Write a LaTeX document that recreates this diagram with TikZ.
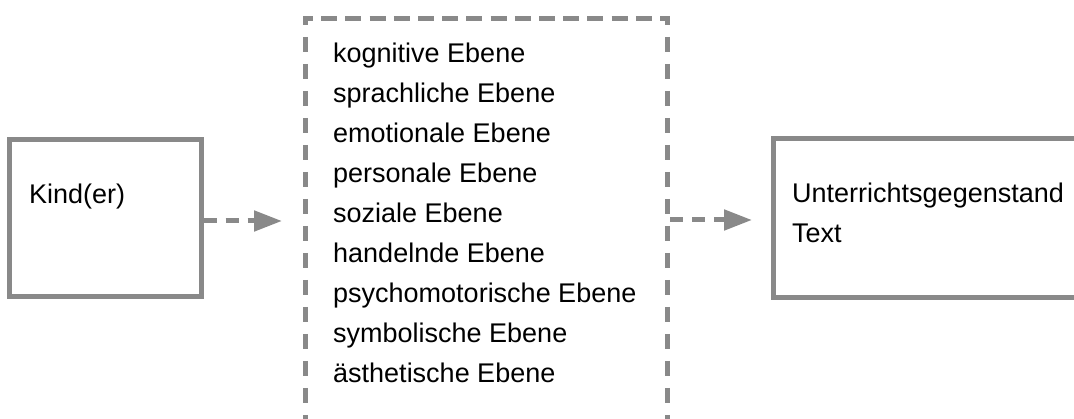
\documentclass[tikz,border=0pt]{standalone}
\usepackage{fontspec}
\setmainfont{Liberation Sans}
\usetikzlibrary{arrows.meta}
\definecolor{framegray}{HTML}{898989}
\begin{document}
\begin{tikzpicture}[x=1pt,y=-1pt,
  solidbox/.style={draw=framegray, line width=5pt, inner sep=0pt},
  openbox/.style={draw=none, inner sep=0pt, outer sep=0pt},
  toprule/.style={draw=framegray, line width=5pt, dash pattern=on 16pt off 8.2pt, dash phase=6pt},
  siderule/.style={draw=framegray, line width=5pt, dash pattern=on 15pt off 12pt, dash phase=6.5pt},
  txt/.style={anchor=base west, inner sep=0pt, font=\fontsize{27}{32}\selectfont, text=black},
  flow/.style={draw=framegray, line width=5pt, dash pattern=on 13pt off 9pt,
    -{Triangle[length=28pt,width=20pt,fill=framegray]}}]
\clip (0,0) rectangle (1074,419);
\fill[white] (0,0) rectangle (1074,419);
% boxes
\node[solidbox, minimum width=192pt, minimum height=157pt] (kind) at (105,218) {};
\node[openbox, minimum width=362pt, minimum height=421pt] (mid) at (486.5,229.5) {};
\node[solidbox, minimum width=330pt, minimum height=158.5pt] (ziel) at (938.5,218.25) {};
% dashed frame of the middle box
\draw[toprule] ([xshift=-2.5pt]mid.north west) -- ([xshift=2.5pt]mid.north east);
\draw[siderule] ([yshift=2.5pt]mid.north west) -- (mid.south west);
\draw[siderule] ([yshift=2.5pt]mid.north east) -- (mid.south east);
% texts
\node[txt] (tkind) at (29,204) {Kind(er)};
\foreach \t [count=\i from 0] in {kognitive Ebene, sprachliche Ebene, emotionale Ebene,
  personale Ebene, soziale Ebene, handelnde Ebene, psychomotorische Ebene,
  symbolische Ebene, ästhetische Ebene}
  \node[txt] (l\i) at (333,63+40*\i) {\t};
\node[txt] (tz1) at (792,203) {Unterrichtsgegenstand};
\node[txt] (tz2) at (792,243) {Text};
% connectors
\draw[flow, shorten >=23.5pt] ([yshift=-3pt]kind.east) -- ([yshift=-3pt]kind.east -| mid.west);
\draw[flow, shorten <=2.5pt, shorten >=19pt] ([yshift=-1.75pt]ziel.west -| mid.east) -- ([yshift=-1.75pt]ziel.west);
\end{tikzpicture}
\end{document}
